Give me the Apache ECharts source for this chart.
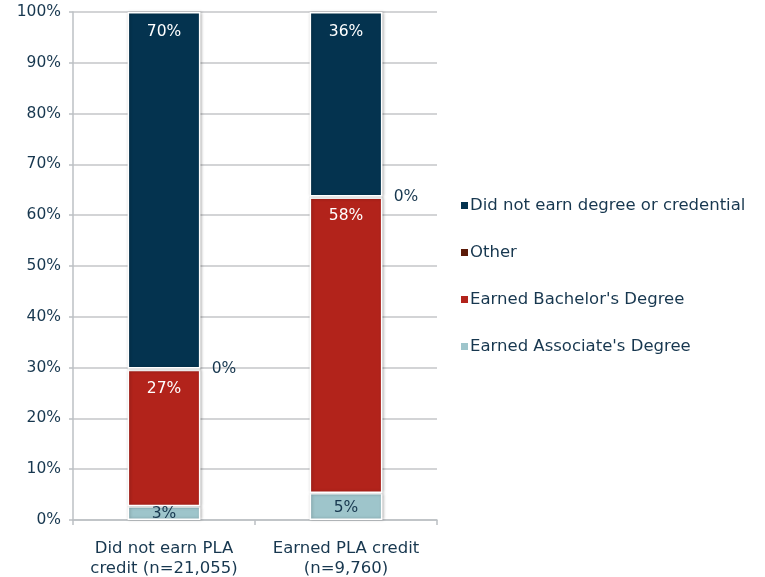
<!DOCTYPE html>
<html>
<head>
<meta charset="utf-8">
<script src="https://cdn.jsdelivr.net/npm/echarts@6/dist/echarts.min.js"></script>
<style>
  html, body { margin: 0; padding: 0; background: #fff; }
  #chart { width: 765px; height: 577px; }
</style>
</head>
<body>
<div id="chart"></div>
<script>
// Outcome shares (%) by PLA credit status
const categories = ['Did not earn PLA\ncredit (n=21,055)', 'Earned PLA credit\n(n=9,760)'];
const associate = [2.7, 5.3];
const bachelor = [26.9, 58.2];
const other = [0.2, 0.2];
const noDegree = [70.2, 36.3];
const yTicks = [0, 10, 20, 30, 40, 50, 60, 70, 80, 90, 100];

const textColor = '#17374f';
const fontFamily = 'DejaVu Sans';

const chart = echarts.init(document.getElementById('chart'));

function pct(p) { return Math.round(p.value) + '%'; }

const barStyle = {
  borderColor: '#ffffff',
  borderWidth: 1.5,
  shadowColor: 'rgba(0,0,0,0.25)',
  shadowBlur: 3,
  shadowOffsetX: 1,
  shadowOffsetY: 0
};

function series(name, data, color, label) {
  return {
    name: name,
    type: 'bar',
    stack: 'total',
    data: data,
    barWidth: '40%',
    itemStyle: Object.assign({ color: color }, barStyle),
    label: Object.assign({
      show: true,
      formatter: pct,
      fontFamily: fontFamily,
      fontSize: 15.5
    }, label)
  };
}

chart.setOption({
  animation: false,
  grid: { left: 73, right: 328, top: 12, bottom: 57, containLabel: false, outerBoundsMode: 'none' },
  legend: {
    orient: 'vertical',
    left: 454,
    top: 192,
    itemGap: 30,
    itemWidth: 9,
    itemHeight: 9,
    icon: 'rect',
    data: ['Did not earn degree or credential', 'Other', "Earned Bachelor's Degree", "Earned Associate's Degree"],
    textStyle: { color: textColor, fontFamily: fontFamily, fontSize: 16.5, padding: [0, 0, 0, -4] }
  },
  xAxis: {
    type: 'category',
    data: categories,
    axisLine: { lineStyle: { color: '#bcc0c4', width: 1.5 } },
    axisTick: { show: true, length: 5, lineStyle: { color: '#bcc0c4', width: 1.5 } },
    axisLabel: { interval: 0, color: textColor, fontFamily: fontFamily, fontSize: 16.5, lineHeight: 20, margin: 19 }
  },
  yAxis: {
    type: 'value',
    min: 0,
    max: 100,
    interval: 10,
    axisLine: { show: true, lineStyle: { color: '#bcc0c4', width: 1.5 } },
    axisTick: { show: true, length: 4, lineStyle: { color: '#bcc0c4', width: 1.5 } },
    splitLine: { lineStyle: { color: '#c4c6c8', width: 1.5 } },
    axisLabel: {
      color: textColor,
      fontFamily: fontFamily,
      fontSize: 15.5,
      margin: 12,
      customValues: yTicks,
      formatter: v => v + '%'
    }
  },
  series: [
    series("Earned Associate's Degree", associate, '#9ec5cb', { position: 'inside', color: textColor, offset: [0, 1] }),
    series("Earned Bachelor's Degree", bachelor, '#b2231b', { position: 'insideTop', color: '#ffffff', distance: 11 }),
    series('Other', other, '#5b1a08', { position: 'right', color: textColor, distance: 11 }),
    series('Did not earn degree or credential', noDegree, '#04334f', { position: 'insideTop', color: '#ffffff', distance: 12 })
  ]
});
</script>
</body>
</html>
